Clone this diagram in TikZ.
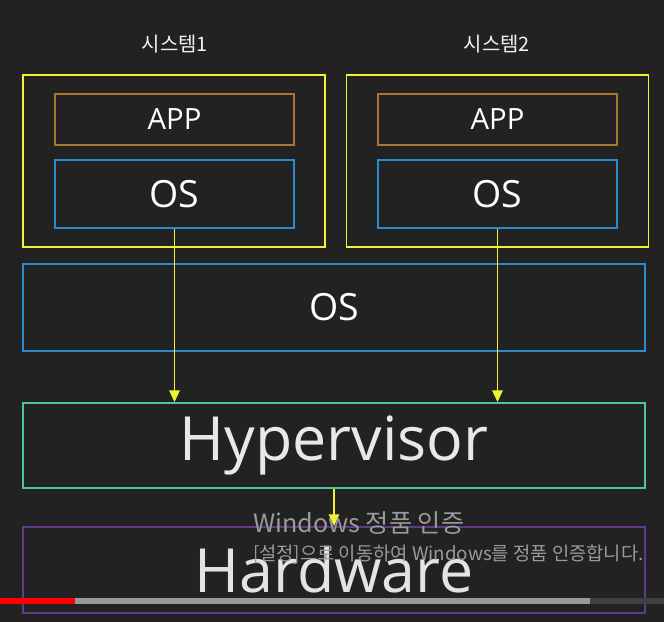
\documentclass[tikz,border=0pt]{standalone}
\usepackage{fontspec}
\setmainfont{Open Sans}
\newfontfamily\krfont{Noto Sans CJK KR}
\usepackage{xcolor}
\usetikzlibrary{positioning, arrows.meta}

\definecolor{bgdark}{HTML}{222222}
\definecolor{sysyellow}{HTML}{F2F233}
\definecolor{appbrown}{HTML}{A8762F}
\definecolor{osblue}{HTML}{2C8BCB}
\definecolor{hypteal}{HTML}{4EC3A6}
\definecolor{hwpurple}{HTML}{5F3A85}
\definecolor{wmgray}{HTML}{9A9A9A}

\begin{document}
\begin{tikzpicture}[x=0.03cm, y=-0.03cm,
    box/.style={draw, line width=1.6pt, rectangle, inner sep=0pt},
    sysbox/.style={box, draw=sysyellow, minimum width=9.06cm, minimum height=5.16cm},
    appbox/.style={box, draw=appbrown, text=white, minimum width=7.17cm, minimum height=1.53cm, font=\fontsize{25}{25}\selectfont},
    osbox/.style={box, draw=osblue, text=white, minimum width=7.17cm, minimum height=2.04cm, font=\fontsize{32}{32}\selectfont},
    layer/.style={box, minimum width=18.66cm, minimum height=2.58cm},
    title/.style={text=white!90!gray, font=\krfont\fontsize{17}{17}\selectfont},
    flow/.style={draw=sysyellow, line width=1.3pt, -{Triangle[width=9pt,length=10pt]}}]

   \fill[bgdark] (0,0) rectangle (664,622);
   \useasboundingbox (0,0) rectangle (664,622);

   % Systeme oben
   \node[sysbox] (sys1) at (174,161) {};
   \node[sysbox] (sys2) at (497.5,161) {};
   \node[title] (t1) at (175,44) {시스템1};
   \node[title] (t2) at (497,44) {시스템2};

   \node[appbox] (app1) at (174.5,119.5) {APP};
   \node[osbox] (os1) [below=0.39cm of app1] {OS};
   \node[appbox] (app2) at (497.5,119.5) {APP};
   \node[osbox] (os2) [below=0.39cm of app2] {OS};

   % Schichten unten
   \node[layer, draw=osblue, text=white, minimum height=2.61cm, font=\fontsize{32}{32}\selectfont] (host) at (334,307.5) {OS};
   \node[layer, draw=hypteal, text=white!82!gray, minimum height=2.55cm, font=\fontsize{52}{52}\selectfont] (hyp) at (334,445.5) {Hypervisor};
   \node[layer, draw=hwpurple, text=white!78!gray, font=\fontsize{52}{52}\selectfont] (hw) at (334,570) {Hardware};

   \draw[flow] (os1.south) -- (os1.south |- hyp.north);
   \draw[flow] (os2.south) -- (os2.south |- hyp.north);
   \draw[flow] (hyp.south) -- (hw.north);

   % Overlay
   \node[anchor=west, text=wmgray, font=\krfont\fontsize{21.5}{21.5}\selectfont] (wm1) at (249,523) {Windows 정품 인증};
   \node[text=wmgray, font=\krfont\fontsize{16}{16}\selectfont, anchor=north west] (wm2) at (249,541) {[설정]으로 이동하여 Windows를 정품 인증합니다.};

   \fill[red] (0,598) rectangle (75,604);
   \fill[gray!80] (75,598) rectangle (590,604);
   \fill[gray!50!black] (590,598) rectangle (664,604);
\end{tikzpicture}
\end{document}
